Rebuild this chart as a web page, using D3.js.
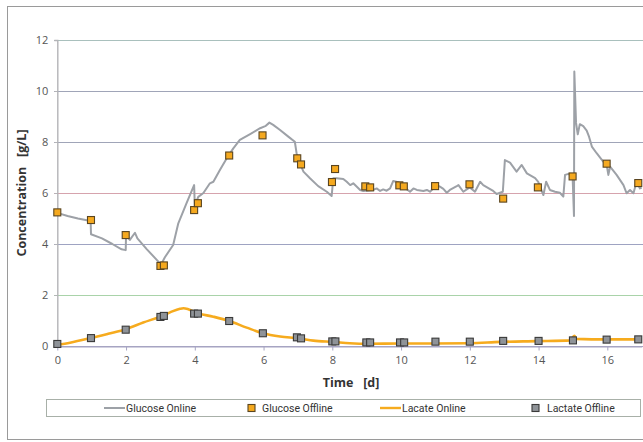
<!DOCTYPE html>
<html>
<head>
<meta charset="utf-8">
<script src="https://cdn.jsdelivr.net/npm/d3@7/dist/d3.min.js"></script>
<style>
  html, body { margin: 0; padding: 0; background: #fff; }
  svg { display: block; }
  .tick-label { font-family: "Liberation Sans Narrow", "Open Sans", sans-serif; font-size: 11px; fill: #555; }
  .axis-title { font-family: "Open Sans", "DejaVu Sans", sans-serif; font-weight: bold; font-size: 12.5px; fill: #333; }
  .legend-text { font-family: "Liberation Sans Narrow", "Roboto", sans-serif; font-size: 10.5px; fill: #333; }
</style>
</head>
<body>
<svg id="chart" width="643" height="442"></svg>
<script>
// Glucose online (sensor trace), day / g/L
const glucoseOnlineDay = [0, 0.3, 0.6, 0.97, 0.98, 1.3, 1.6, 1.87, 1.99, 2.0, 2.11, 2.26, 2.33, 2.6, 2.94, 3.02, 3.13, 3.37, 3.52, 3.76, 3.98, 4.0, 4.1, 4.25, 4.44, 4.54, 4.73, 4.93, 5.12, 5.31, 5.61, 5.9, 6.05, 6.17, 6.28, 6.48, 6.72, 6.91, 6.96, 7.06, 7.16, 7.35, 7.59, 7.84, 7.98, 8.03, 8.13, 8.32, 8.42, 8.52, 8.61, 8.81, 8.9, 9.19, 9.29, 9.39, 9.48, 9.58, 9.68, 9.77, 9.92, 10.07, 10.26, 10.36, 10.46, 10.65, 10.75, 10.84, 11.04, 11.13, 11.23, 11.33, 11.42, 11.62, 11.67, 11.81, 12.0, 12.15, 12.3, 12.39, 12.59, 12.68, 12.78, 12.96, 13.02, 13.17, 13.36, 13.51, 13.66, 13.9, 13.99, 14.14, 14.22, 14.33, 14.48, 14.62, 14.72, 14.77, 14.87, 14.99, 15.03, 15.04, 15.09, 15.14, 15.2, 15.3, 15.4, 15.47, 15.55, 15.69, 15.88, 15.98, 16.03, 16.08, 16.27, 16.47, 16.56, 16.66, 16.76, 16.85, 16.95, 17.0];
const glucoseOnlineVal = [5.22, 5.1, 5.0, 4.9, 4.38, 4.22, 4.0, 3.79, 3.76, 4.35, 4.16, 4.44, 4.22, 3.8, 3.31, 3.2, 3.48, 3.96, 4.81, 5.6, 6.31, 5.5, 5.85, 6.0, 6.38, 6.44, 6.9, 7.36, 7.75, 8.08, 8.31, 8.54, 8.62, 8.76, 8.67, 8.47, 8.21, 8.01, 7.56, 7.16, 6.84, 6.58, 6.27, 6.05, 5.88, 6.58, 6.58, 6.55, 6.44, 6.31, 6.38, 6.12, 6.08, 6.12, 6.18, 6.08, 6.14, 6.09, 6.18, 6.47, 6.42, 6.25, 6.05, 6.18, 6.12, 6.08, 6.12, 6.05, 6.31, 6.25, 6.16, 6.01, 6.12, 6.27, 6.31, 6.05, 6.22, 6.05, 6.44, 6.31, 6.15, 6.08, 5.96, 6.05, 7.29, 7.19, 6.84, 7.1, 6.77, 6.58, 6.44, 5.92, 6.44, 6.12, 6.05, 6.01, 5.86, 6.71, 6.75, 6.64, 5.1, 10.76, 8.75, 8.3, 8.7, 8.62, 8.45, 8.2, 7.82, 7.56, 7.23, 7.1, 6.71, 7.03, 6.71, 6.31, 5.99, 6.12, 5.99, 6.43, 6.18, 6.2];

// Glucose offline (lab samples)
const glucoseOfflineDay = [0, 0.98, 1.99, 3.0, 3.1, 3.98, 4.09, 5.0, 5.97, 6.98, 7.09, 7.99, 8.08, 8.96, 9.1, 9.95, 10.08, 10.99, 11.99, 12.97, 13.98, 14.99, 15.98, 16.9];
const glucoseOfflineVal = [5.24, 4.94, 4.35, 3.14, 3.16, 5.33, 5.6, 7.47, 8.26, 7.36, 7.12, 6.43, 6.94, 6.26, 6.22, 6.3, 6.26, 6.27, 6.34, 5.78, 6.22, 6.65, 7.15, 6.39];

// Lactate online (sensor trace)
const lactateOnlineDay = [0, 0.37, 0.97, 1.48, 2.0, 2.5, 2.99, 3.28, 3.57, 3.67, 3.81, 4.05, 4.54, 5.0, 5.51, 5.98, 6.48, 7.03, 7.45, 8.03, 8.51, 9.05, 9.97, 10.94, 12.0, 12.88, 13.95, 14.92, 15.04, 15.1, 15.98, 16.95, 17.0];
const lactateOnlineVal = [0.05, 0.13, 0.31, 0.48, 0.66, 0.92, 1.15, 1.32, 1.46, 1.48, 1.44, 1.3, 1.15, 0.98, 0.72, 0.5, 0.37, 0.3, 0.21, 0.16, 0.11, 0.09, 0.1, 0.1, 0.11, 0.16, 0.19, 0.22, 0.4, 0.28, 0.26, 0.26, 0.26];

// Lactate offline (lab samples)
const lactateOfflineDay = [0, 0.98, 1.99, 3.0, 3.1, 3.98, 4.09, 5.0, 5.98, 6.97, 7.09, 8.0, 8.09, 8.99, 9.1, 9.97, 10.09, 11.0, 12.0, 12.97, 14.0, 15.0, 15.98, 16.9];
const lactateOfflineVal = [0.08, 0.31, 0.64, 1.14, 1.18, 1.27, 1.27, 0.98, 0.5, 0.34, 0.3, 0.18, 0.18, 0.14, 0.14, 0.14, 0.14, 0.17, 0.17, 0.2, 0.2, 0.22, 0.25, 0.26];

const xTicks = [0, 2, 4, 6, 8, 10, 12, 14, 16];
const yTicks = [0, 2, 4, 6, 8, 10, 12];
const legendLabels = ["Glucose Online", "Glucose Offline", "Lacate Online", "Lactate Offline"];

const svg = d3.select("#chart");

const x = d3.scaleLinear().domain([0, 17]).range([57.3, 641.7]);
const y = d3.scaleLinear().domain([0, 12]).range([346, 40]);

// outer frame
svg.append("rect").attr("x", 7.5).attr("y", 6.5).attr("width", 660).attr("height", 433)
  .attr("fill", "none").attr("stroke", "#9a9a9a").attr("stroke-width", 1);

// horizontal gridlines (slightly different tints as printed)
const gridColors = { 0: "#a6a4c2", 2: "#a9d3a9", 4: "#9ea3c2", 6: "#d6a3ad", 8: "#a0a5b8", 10: "#a0a5b8", 12: "#a9c0bd" };
svg.append("g").selectAll("line").data(yTicks).join("line")
  .attr("x1", 54).attr("x2", 643)
  .attr("y1", d => y(d) + 0.5).attr("y2", d => y(d) + 0.5)
  .attr("stroke", d => gridColors[d]).attr("stroke-width", 1.2);

// y axis
const yAxis = d3.axisLeft(y).tickValues(yTicks).tickSize(3).tickPadding(6);
const gy = svg.append("g").attr("transform", `translate(${x(0)},0)`).call(yAxis);
gy.select(".domain").attr("stroke", "#b4b4b8").attr("stroke-width", 1.4);
gy.selectAll(".tick line").attr("stroke", "#b4b4b8");
gy.selectAll(".tick text").attr("class", "tick-label").attr("fill", null);

// x axis
const xAxis = d3.axisBottom(x).tickValues(xTicks).tickSize(4).tickPadding(6).tickSizeOuter(0);
const gx = svg.append("g").attr("transform", `translate(0,${y(0) + 0.5})`).call(xAxis);
gx.select(".domain").attr("stroke", "#a6a4c2").attr("stroke-width", 1.2);
gx.selectAll(".tick line").attr("stroke", "#a6a4c2");
gx.selectAll(".tick text").attr("class", "tick-label").attr("fill", null);

// axis titles
svg.append("text").attr("class", "axis-title")
  .attr("transform", `translate(26,${y(6)}) rotate(-90)`)
  .attr("text-anchor", "middle")
  .attr("xml:space", "preserve")
  .text("Concentration   [g/L]");
svg.append("text").attr("class", "axis-title")
  .attr("x", 351).attr("y", 387)
  .attr("text-anchor", "middle")
  .attr("xml:space", "preserve")
  .text("Time   [d]");

// lines
const glucoseOnline = glucoseOnlineDay.map((d, i) => [d, glucoseOnlineVal[i]]);
const lactateOnline = lactateOnlineDay.map((d, i) => [d, lactateOnlineVal[i]]);

const lineLinear = d3.line().x(d => x(d[0])).y(d => y(d[1]));
const lineSmooth = d3.line().x(d => x(d[0])).y(d => y(d[1])).curve(d3.curveMonotoneX);

svg.append("path").datum(lactateOnline).attr("d", lineSmooth)
  .attr("fill", "none").attr("stroke", "#f6ab1e").attr("stroke-width", 2.6);

svg.append("path").datum(glucoseOnline).attr("d", lineLinear)
  .attr("fill", "none").attr("stroke", "#9da1a7").attr("stroke-width", 2)
  .attr("stroke-linejoin", "round");

// offline sample markers
const sq = 7;
function markers(days, vals, fill, stroke) {
  svg.append("g").selectAll("rect").data(days.map((d, i) => [d, vals[i]])).join("rect")
    .attr("x", d => x(d[0]) - sq / 2).attr("y", d => y(d[1]) - sq / 2)
    .attr("width", sq).attr("height", sq)
    .attr("fill", fill).attr("stroke", stroke).attr("stroke-width", 1.1);
}
markers(lactateOfflineDay, lactateOfflineVal, "#8f9398", "#3a3a3a");
markers(glucoseOfflineDay, glucoseOfflineVal, "#f5a91f", "#5a4520");

// legend
const lg = svg.append("g");
lg.append("rect").attr("x", 46.5).attr("y", 399.5).attr("width", 594).attr("height", 17)
  .attr("fill", "#fff").attr("stroke", "#a8b0a8").attr("stroke-width", 1);
const ly = 408;
// Glucose Online
lg.append("line").attr("x1", 104).attr("x2", 125).attr("y1", ly).attr("y2", ly)
  .attr("stroke", "#9da1a7").attr("stroke-width", 2);
lg.append("text").attr("class", "legend-text").attr("x", 126).attr("y", ly + 3.5).text(legendLabels[0]);
// Glucose Offline
lg.append("rect").attr("x", 248).attr("y", ly - 3.5).attr("width", 7).attr("height", 7)
  .attr("fill", "#f5a91f").attr("stroke", "#5a4520").attr("stroke-width", 1.1);
lg.append("text").attr("class", "legend-text").attr("x", 262).attr("y", ly + 3.5).text(legendLabels[1]);
// Lactate Online
lg.append("line").attr("x1", 380).attr("x2", 401).attr("y1", ly).attr("y2", ly)
  .attr("stroke", "#f6ab1e").attr("stroke-width", 2.4);
lg.append("text").attr("class", "legend-text").attr("x", 402).attr("y", ly + 3.5).text(legendLabels[2]);
// Lactate Offline
lg.append("rect").attr("x", 532).attr("y", ly - 3.5).attr("width", 7).attr("height", 7)
  .attr("fill", "#8f9398").attr("stroke", "#3a3a3a").attr("stroke-width", 1.1);
lg.append("text").attr("class", "legend-text").attr("x", 547).attr("y", ly + 3.5).text(legendLabels[3]);
</script>
</body>
</html>
